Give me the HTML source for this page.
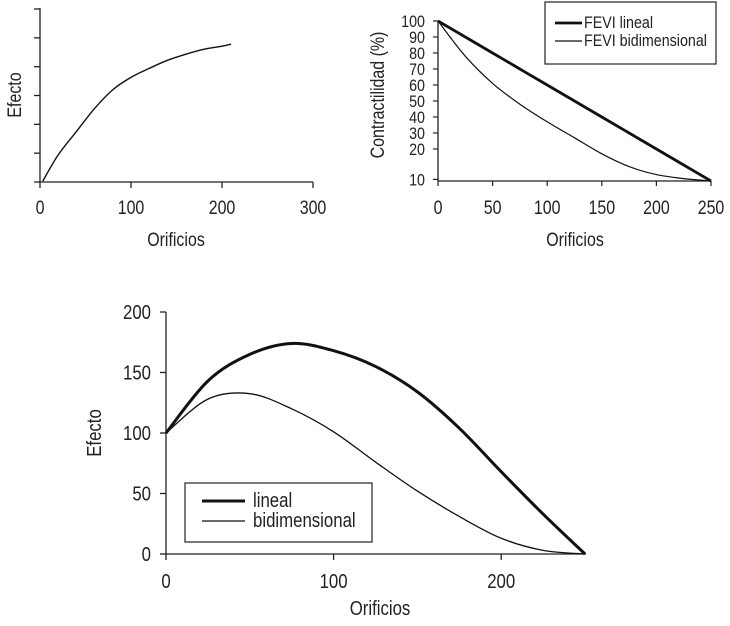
<!DOCTYPE html>
<html><head><meta charset="utf-8"><style>
html,body{margin:0;padding:0;background:#fff;width:730px;height:626px;overflow:hidden}
svg text{font-family:"Liberation Sans",sans-serif;fill:#222}
</style></head><body>
<svg id="svg" width="730" height="626" viewBox="0 0 730 626" xmlns="http://www.w3.org/2000/svg"></svg>
<script>
// Chart A (top-left)
const aX=[3,20,40,60,80,100,120,140,160,180,200,210];
const aY=[0.03,0.94,1.75,2.55,3.2,3.63,3.94,4.22,4.43,4.6,4.71,4.78];
const aXTicks=[0,100,200,300];
const aYTicks=[0,1,2,3,4,5,6];
// Chart B (top-right)
const bX=[0,25,50,75,100,125,150,175,200,225,250];
const bLineal=[100,90,80,70,60,50,40,30,20,10,0];
const bBidim=[100,78,61,48,37,27,17,9,4,1.5,0];
const bXTicks=[0,50,100,150,200,250];
const bYTickVals=[100,90,80,70,60,50,40,30,20,1];
const bYTickLabels=['100','90','80','70','60','50','40','30','20','10'];
// Chart C (bottom)
const cX=[0,25,50,75,100,125,150,175,200,225,250];
const cLineal=[100,143,165,174,168,155,134,104,68,33,0];
const cBidim=[100,128,132.5,120,101,76,52,31,13,3,0];
const cXTicks=[0,100,200];
const cYTicks=[0,50,100,150,200];

const svg=document.getElementById('svg');
const NS='http://www.w3.org/2000/svg';
function mk(tag,attrs,parent){const e=document.createElementNS(NS,tag);for(const k in attrs)e.setAttribute(k,attrs[k]);(parent||svg).appendChild(e);return e;}
function txt(s,x,y,anchor,size,parent,rot){const t=mk('text',{x:0,y:0,'text-anchor':anchor,'font-size':size},parent);t.setAttribute('transform','translate('+x+','+y+')'+(rot?' rotate('+rot+')':'')+' scale(0.84,1)');t.textContent=s;return t;}
function smooth(pts){let d='M'+pts[0][0]+','+pts[0][1];for(let i=0;i<pts.length-1;i++){const p0=pts[i-1]||pts[i],p1=pts[i],p2=pts[i+1],p3=pts[i+2]||p2;const c1x=p1[0]+(p2[0]-p0[0])/6,c1y=p1[1]+(p2[1]-p0[1])/6,c2x=p2[0]-(p3[0]-p1[0])/6,c2y=p2[1]-(p3[1]-p1[1])/6;d+=' C'+c1x+','+c1y+' '+c2x+','+c2y+' '+p2[0]+','+p2[1];}return d;}

// ---- Chart A
const gA=mk('g',{});


const axA=v=>40+v*(273/300), ayA=v=>182-v*(173/6);
let e=mk('line',{x1:40,y1:8,x2:40,y2:182,stroke:'#222','stroke-width':1.3},gA);

e=mk('line',{x1:40,y1:182,x2:313,y2:182,stroke:'#222','stroke-width':1.3},gA);

aYTicks.forEach(v=>{const l=mk('line',{x1:34,y1:ayA(v),x2:40,y2:ayA(v),stroke:'#222','stroke-width':1.3},gA);});
aXTicks.forEach(v=>{const l=mk('line',{x1:axA(v),y1:182,x2:axA(v),y2:188,stroke:'#222','stroke-width':1.3},gA);
const t=txt(String(v),axA(v),214,'middle',19,gA);});
e=txt('Orificios',176,246,'middle',19,gA);
e=txt('Efecto',21,95,'middle',19,gA,-90);
e=mk('path',{d:smooth(aX.map((x,i)=>[axA(x),ayA(aY[i])])),fill:'none',stroke:'#111','stroke-width':1.4},gA);


// ---- Chart B
const gB=mk('g',{});


const axB=v=>438+v*(273/250), ayB=v=>181-v*1.6;
e=mk('line',{x1:438,y1:21,x2:438,y2:181,stroke:'#222','stroke-width':1.3},gB);

e=mk('line',{x1:438,y1:181,x2:711,y2:181,stroke:'#222','stroke-width':1.3},gB);

bYTickVals.forEach((v,i)=>{const l=mk('line',{x1:433,y1:ayB(v),x2:438,y2:ayB(v),stroke:'#222','stroke-width':1.2},gB);
const t=txt(bYTickLabels[i],425,ayB(v)+6,'end',17,gB);});
bXTicks.forEach(v=>{const l=mk('line',{x1:axB(v),y1:181,x2:axB(v),y2:186,stroke:'#222','stroke-width':1.2},gB);
const t=txt(String(v),axB(v),214,'middle',19,gB);});
e=txt('Orificios',575,246,'middle',19,gB);
e=txt('Contractilidad (%)',384,95,'middle',19,gB,-90);
e=mk('path',{d:smooth(bX.map((x,i)=>[axB(x),ayB(bLineal[i])])),fill:'none',stroke:'#111','stroke-width':2.8},gB);

e=mk('path',{d:smooth(bX.map((x,i)=>[axB(x),ayB(bBidim[i])])),fill:'none',stroke:'#111','stroke-width':1.2},gB);

const lgB=mk('g',{},gB);

mk('rect',{x:545,y:2,width:171,height:62,fill:'#fff',stroke:'#222','stroke-width':1.2},lgB);
e=mk('line',{x1:555,y1:23,x2:582,y2:23,stroke:'#111','stroke-width':2.8},lgB);
e=txt('FEVI lineal',584,28,'start',17,lgB);
e=mk('line',{x1:555,y1:41,x2:582,y2:41,stroke:'#111','stroke-width':1.2},lgB);
e=txt('FEVI bidimensional',584,46,'start',17,lgB);

// ---- Chart C
const gC=mk('g',{});


const axC=v=>166+v*(419/250), ayC=v=>554-v*(242/200);
e=mk('line',{x1:166,y1:312,x2:166,y2:554,stroke:'#222','stroke-width':1.3},gC);

e=mk('line',{x1:166,y1:554,x2:586,y2:554,stroke:'#222','stroke-width':1.3},gC);

cYTicks.forEach(v=>{const l=mk('line',{x1:160,y1:ayC(v),x2:166,y2:ayC(v),stroke:'#222','stroke-width':1.3},gC);
const t=txt(String(v),151,ayC(v)+7,'end',20,gC);});
cXTicks.forEach(v=>{const l=mk('line',{x1:axC(v),y1:554,x2:axC(v),y2:560,stroke:'#222','stroke-width':1.3},gC);
const t=txt(String(v),axC(v),588,'middle',20,gC);});
e=txt('Orificios',380,615,'middle',20,gC);
e=txt('Efecto',101,433,'middle',20,gC,-90);
e=mk('path',{d:smooth(cX.map((x,i)=>[axC(x),ayC(cLineal[i])])),fill:'none',stroke:'#111','stroke-width':3},gC);

e=mk('path',{d:smooth(cX.map((x,i)=>[axC(x),ayC(cBidim[i])])),fill:'none',stroke:'#111','stroke-width':1.3},gC);

const lgC=mk('g',{},gC);

mk('rect',{x:185,y:483,width:187,height:59,fill:'#fff',stroke:'#222','stroke-width':1.2},lgC);
e=mk('line',{x1:202,y1:501,x2:245,y2:501,stroke:'#111','stroke-width':3},lgC);
e=txt('lineal',253,507,'start',20,lgC);
e=mk('line',{x1:202,y1:521,x2:245,y2:521,stroke:'#111','stroke-width':1.3},lgC);
e=txt('bidimensional',253,527,'start',20,lgC);
</script>
</body></html>
